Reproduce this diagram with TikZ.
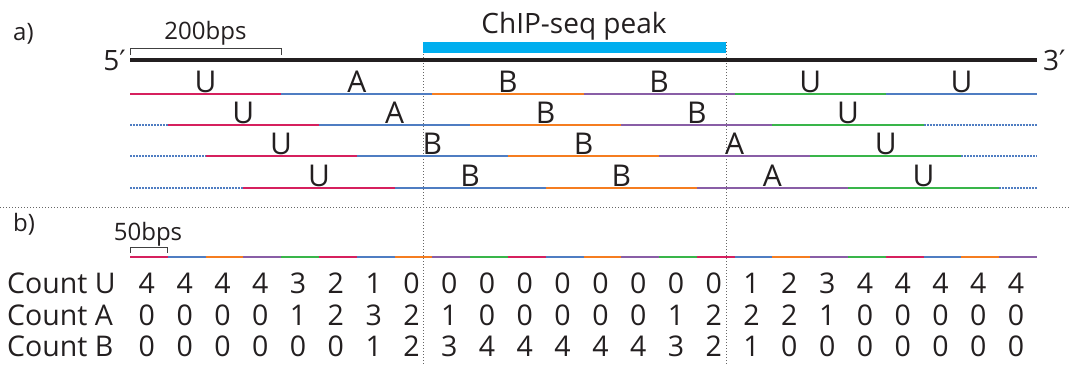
\documentclass[tikz,border=0pt]{standalone}
\usepackage{fontspec}
\setmainfont{Open Sans}
\newfontfamily\primefont{DejaVu Sans}
\definecolor{segred}{RGB}{214,32,94}
\definecolor{segblue}{RGB}{79,125,194}
\definecolor{segorange}{RGB}{245,125,32}
\definecolor{segpurple}{RGB}{137,94,166}
\definecolor{seggreen}{RGB}{57,181,74}
\definecolor{peakcyan}{RGB}{0,174,239}
\definecolor{txt}{RGB}{35,31,32}
\begin{document}
\begin{tikzpicture}[x=1bp,y=-1bp,
  seg/.style={line width=2.5bp},
  dotseg/.style={line width=2.5bp,segblue,dash pattern=on 2bp off 1bp},
  guide/.style={line width=0.8bp,black!60,dash pattern=on 1bp off 2bp},
  bigtxt/.style={font=\fontsize{30bp}{34bp}\selectfont,text=txt,inner sep=0pt},
  cnttxt/.style={font=\fontsize{28.5bp}{32bp}\selectfont,text=txt,inner sep=0pt},
  midtxt/.style={font=\fontsize{24bp}{28bp}\selectfont,text=txt,inner sep=0pt},
  bracket/.style={line width=1bp,black!75}]
\useasboundingbox (0,0) rectangle (1070,364);
\def\xo{130}
\def\sw{37.7917}
% guides
\draw[guide] (0,207) -- (1070,207);
\draw[guide] (423,42) -- (423,364);
\draw[guide] (726,42) -- (726,364);
% labels a) b)
\node[midtxt,anchor=base west] (la) at (13,40) {a)};
\node[midtxt,anchor=base west] (lb) at (13,231) {b)};
% peak
\fill[peakcyan] (423,42) rectangle (726,53);
\node[bigtxt,anchor=base,font=\fontsize{28bp}{32bp}\selectfont] (peak) at (574,33) {ChIP-seq peak};
% main strand
\draw[line width=4bp,txt] (130,60) -- (1037,60);
\node[bigtxt,anchor=base east,font=\fontsize{28bp}{32bp}\selectfont] (p5) at (126,70) {5{\primefont ′}};
\node[bigtxt,anchor=base west,font=\fontsize{28bp}{32bp}\selectfont] (p3) at (1043,70) {3{\primefont ′}};
% 200bps bracket
\draw[bracket] (130,55) -- (130,48) -- (281,48) -- (281,55);
\node[midtxt,anchor=base] (b200) at (205.5,39) {200bps};
% rows a)
\foreach \r/\yy/\labs in {0/94/{U,A,B,B,U,U},1/125/{U,A,B,B,U},2/156/{U,B,B,A,U},3/188/{U,B,B,A,U}}{
  \ifnum\r>0
    \draw[dotseg] (\xo,\yy) -- ({\xo+\r*\sw},\yy);
    \draw[dotseg] ({\xo+(\r+20)*\sw},\yy) -- (1037,\yy);
  \fi
  \foreach \l [count=\k from 0] in \labs {
    \ifcase\k \def\cc{segred}\or \def\cc{segblue}\or \def\cc{segorange}\or \def\cc{segpurple}\or \def\cc{seggreen}\or \def\cc{segblue}\fi
    \draw[seg,\cc] ({\xo+(\r+4*\k)*\sw},\yy) -- ({\xo+(\r+4*\k+4)*\sw},\yy);
    \node[bigtxt,anchor=base] (r\r l\k) at ({\xo+(\r+4*\k+2)*\sw},\yy-2) {\l};
  }
}
% b) segmented line
\foreach \i in {0,...,23}{
  \pgfmathtruncatemacro{\m}{mod(\i,5)}
  \ifcase\m \def\cc{segred}\or \def\cc{segblue}\or \def\cc{segorange}\or \def\cc{segpurple}\or \def\cc{seggreen}\fi
  \draw[seg,\cc] ({\xo+\i*\sw},257) -- ({\xo+(\i+1)*\sw},257);
}
\draw[bracket] (130,253) -- (130,247) -- (167.8,247) -- (167.8,253);
\node[midtxt,anchor=base] (b50) at (148,240) {50bps};
% counts
\node[cnttxt,anchor=base west] (cu) at (7,293) {Count U};
\node[cnttxt,anchor=base west] (ca) at (7,325) {Count A};
\node[cnttxt,anchor=base west] (cb) at (7,356) {Count B};
\foreach \n [count=\i from 0] in {4,4,4,4,3,2,1,0,0,0,0,0,0,0,0,0,1,2,3,4,4,4,4,4}
  \node[cnttxt,anchor=base] (u\i) at ({\xo+(\i+0.5)*\sw-2},293) {\n};
\foreach \n [count=\i from 0] in {0,0,0,0,1,2,3,2,1,0,0,0,0,0,1,2,2,2,1,0,0,0,0,0}
  \node[cnttxt,anchor=base] (a\i) at ({\xo+(\i+0.5)*\sw-2},325) {\n};
\foreach \n [count=\i from 0] in {0,0,0,0,0,0,1,2,3,4,4,4,4,4,3,2,1,0,0,0,0,0,0,0}
  \node[cnttxt,anchor=base] (bb\i) at ({\xo+(\i+0.5)*\sw-2},356) {\n};
\end{tikzpicture}
\end{document}
